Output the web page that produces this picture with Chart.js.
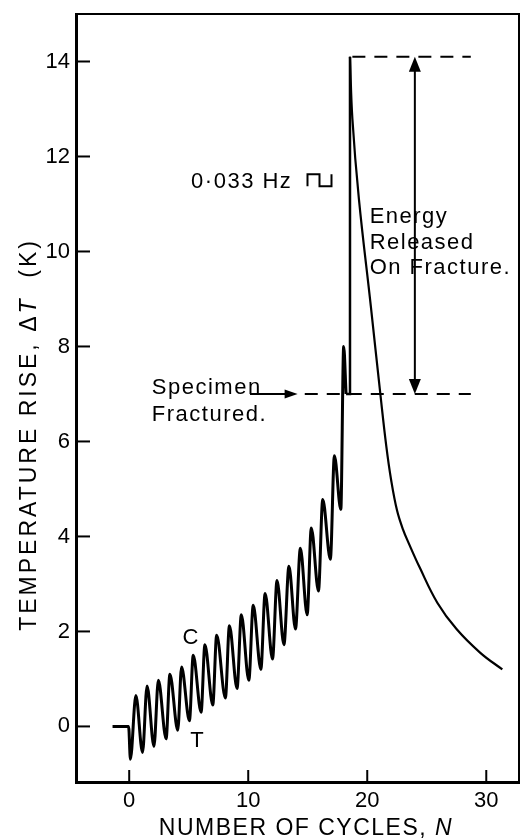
<!DOCTYPE html>
<html>
<head>
<meta charset="utf-8">
<script src="https://cdn.jsdelivr.net/npm/chart.js@4/dist/chart.umd.min.js"></script>
<style>
  html, body { margin: 0; padding: 0; background: #fff; }
  #wrap { width: 525px; height: 838px; position: relative; }
</style>
</head>
<body>
<div id="wrap"><canvas id="myChart"></canvas></div>
<script>
// temperature record while cycling: flat start, then trough / peak pairs
const cycleN = [-1.4, -0.05,
  0.1, 0.56, 1.12, 1.5, 2.08, 2.45, 3.1, 3.42, 4.08, 4.4, 5.06, 5.38, 6.04, 6.36,
  7.02, 7.35, 8.08, 8.42, 9.06, 9.42, 10.05, 10.42, 11.06, 11.42, 12.04, 12.42,
  13.0, 13.42, 13.97, 14.38, 14.95, 15.3, 15.9, 16.26, 16.9, 17.24, 17.78, 18.02, 18.22];
const cycleT = [0, 0,
  -0.69, 0.65, -0.55, 0.85, -0.42, 0.97, -0.26, 1.1, -0.08, 1.25, 0.12, 1.5, 0.3, 1.72,
  0.45, 1.92, 0.6, 2.12, 0.8, 2.35, 0.97, 2.55, 1.2, 2.8, 1.42, 3.07,
  1.72, 3.37, 2.05, 3.75, 2.35, 4.18, 2.85, 4.78, 3.52, 5.7, 4.57, 8.0, 7.0];

// fracture jump
const jumpN = [18.22, 18.55, 18.55];
const jumpT = [7.0, 7.0, 14.1];

// cooling after fracture
const decayN = [18.55, 18.75, 19.3, 20.3, 21.1, 21.6, 22.0, 22.5, 23.0, 23.5, 24.4, 25.9, 27.5, 29.5, 31.35];
const decayT = [14.1, 12.8, 11.1, 8.85, 7.0, 5.9, 5.2, 4.55, 4.15, 3.85, 3.35, 2.6, 2.05, 1.55, 1.2];

// dashed reference levels
const topLevelN = [18.75, 28.7];
const topLevelT = [14.1, 14.1];
const midLevelN = [14.75, 28.7];
const midLevelT = [7.0, 7.0];

const xTicks = [0, 10, 20, 30];
const yTicks = [0, 2, 4, 6, 8, 10, 12, 14];

const pts = (xs, ys) => xs.map((v, i) => ({ x: v, y: ys[i] }));

const FONT = "'Liberation Sans', Arial, sans-serif";

function arrowHead(ctx, tx, ty, dx, dy, len, half) {
  // tip at (tx,ty), pointing along (dx,dy)
  const bx = tx - dx * len, by = ty - dy * len;
  ctx.beginPath();
  ctx.moveTo(tx, ty);
  ctx.lineTo(bx - dy * half, by + dx * half);
  ctx.lineTo(bx + dy * half, by - dx * half);
  ctx.closePath();
  ctx.fill();
}

const overlay = {
  id: 'overlay',
  afterDatasetsDraw(chart) {
    const { ctx, chartArea: a, scales: { x, y } } = chart;
    ctx.save();
    ctx.strokeStyle = '#000';
    ctx.fillStyle = '#000';

    // top and right frame
    ctx.lineWidth = 2;
    ctx.beginPath();
    ctx.moveTo(a.left, a.top);
    ctx.lineTo(a.right, a.top);
    ctx.lineTo(a.right, a.bottom);
    ctx.stroke();

    // ticks point inwards
    yTicks.forEach(v => {
      const py = y.getPixelForValue(v);
      ctx.beginPath(); ctx.moveTo(a.left, py); ctx.lineTo(a.left + 14, py); ctx.stroke();
    });
    xTicks.forEach(v => {
      const px = x.getPixelForValue(v);
      ctx.beginPath(); ctx.moveTo(px, a.bottom); ctx.lineTo(px, a.bottom - 12); ctx.stroke();
    });

    // energy released arrow
    const ax = x.getPixelForValue(24.0);
    const aTop = y.getPixelForValue(14.1), aBot = y.getPixelForValue(7.0);
    ctx.lineWidth = 2;
    ctx.beginPath(); ctx.moveTo(ax, aTop + 10); ctx.lineTo(ax, aBot - 10); ctx.stroke();
    arrowHead(ctx, ax, aTop, 0, -1, 15, 6);
    arrowHead(ctx, ax, aBot, 0, 1, 15, 6);

    // specimen fractured arrow
    const sy = y.getPixelForValue(7.0);
    const sx0 = x.getPixelForValue(10.15), sx1 = x.getPixelForValue(14.15);
    ctx.beginPath(); ctx.moveTo(sx0, sy); ctx.lineTo(sx1 - 8, sy); ctx.stroke();
    arrowHead(ctx, sx1, sy, 1, 0, 13, 4.5);

    // texts
    ctx.font = '22px ' + FONT;
    ctx.letterSpacing = '1.5px';
    ctx.textAlign = 'left';
    ctx.textBaseline = 'alphabetic';
    const hzX = x.getPixelForValue(5.2), hzY = y.getPixelForValue(11.33);
    ctx.fillText('0\u00B7033 Hz', hzX, hzY);
    // square wave sign
    const gx = x.getPixelForValue(14.98), gy = hzY - 2;
    ctx.lineWidth = 2;
    ctx.beginPath();
    ctx.moveTo(gx, gy); ctx.lineTo(gx, gy - 12); ctx.lineTo(gx + 12, gy - 12);
    ctx.lineTo(gx + 12, gy); ctx.lineTo(gx + 24, gy); ctx.lineTo(gx + 24, gy - 12);
    ctx.stroke();

    const ex = x.getPixelForValue(20.2);
    ctx.fillText('Energy', ex, y.getPixelForValue(10.6));
    ctx.fillText('Released', ex, y.getPixelForValue(10.05));
    ctx.fillText('On Fracture.', ex, y.getPixelForValue(9.52));

    const spx = x.getPixelForValue(1.9);
    ctx.fillText('Specimen', spx, y.getPixelForValue(7.0));
    ctx.fillText('Fractured.', spx, y.getPixelForValue(6.43));

    ctx.textAlign = 'center';
    ctx.textBaseline = 'middle';
    ctx.fillText('C', x.getPixelForValue(5.2), y.getPixelForValue(1.86));
    ctx.fillText('T', x.getPixelForValue(5.75), y.getPixelForValue(-0.3));

    // axis titles, with italic symbols
    ctx.textAlign = 'left';
    ctx.textBaseline = 'alphabetic';
    const up = '23px ' + FONT, it = 'italic 23px ' + FONT;
    const xParts = [['NUMBER OF CYCLES, ', up], ['N', it]];
    const yParts = [['TEMPERATURE RISE, \u0394', up], ['T', it], ['  (K)', up]];
    const width = parts => parts.reduce((s, [t, f]) => { ctx.font = f; return s + ctx.measureText(t).width; }, 0);

    ctx.letterSpacing = '1.5px';
    let cx = 306 - width(xParts) / 2;
    xParts.forEach(([t, f]) => { ctx.font = f; ctx.fillText(t, cx, 835); cx += ctx.measureText(t).width; });

    // y title: upper end ("(K)") sits at about y = 238
    ctx.letterSpacing = '3px';
    const yw = width(yParts);
    ctx.translate(36, 238 + yw);
    ctx.rotate(-Math.PI / 2);
    cx = 0;
    yParts.forEach(([t, f]) => { ctx.font = f; ctx.fillText(t, cx, 0); cx += ctx.measureText(t).width; });

    ctx.restore();
  }
};

const line = (data, extra) => Object.assign({
  data, showLine: true, borderColor: '#000', pointRadius: 0, fill: false
}, extra);

const config = {
  type: 'scatter',
  data: {
    datasets: [
      line(pts(cycleN, cycleT), { borderWidth: 3, cubicInterpolationMode: 'monotone' }),
      line(pts(jumpN, jumpT), { borderWidth: 2.5, tension: 0 }),
      line(pts(decayN, decayT), { borderWidth: 2.2, tension: 0.4 }),
      line(pts(topLevelN, topLevelT), { borderWidth: 2, borderDash: [13, 9] }),
      line(pts(midLevelN, midLevelT), { borderWidth: 2, borderDash: [13, 9] })
    ]
  },
  options: {
    responsive: true,
    maintainAspectRatio: false,
    animation: false,
    layout: { padding: { top: 14, right: 6, left: 0, bottom: 0 } },
    plugins: { legend: { display: false }, tooltip: { enabled: false } },
    scales: {
      x: {
        type: 'linear', min: -4.47, max: 32.75,
        grid: { display: false, drawTicks: false, tickLength: 0 },
        border: { display: true, width: 3, color: '#000' },
        ticks: { color: '#000', font: { family: FONT, size: 22 }, padding: 6, maxRotation: 0 },
        afterBuildTicks: s => { s.ticks = xTicks.map(v => ({ value: v })); },
        afterFit: s => { s.height = 56; s.paddingLeft = 0; s.paddingRight = 0; }
      },
      y: {
        type: 'linear', min: -1.17, max: 15.0,
        grid: { display: false, drawTicks: false, tickLength: 0 },
        border: { display: true, width: 3, color: '#000' },
        ticks: { color: '#000', font: { family: FONT, size: 22 }, padding: 6 },
        afterBuildTicks: s => { s.ticks = yTicks.map(v => ({ value: v })); },
        afterFit: s => { s.width = 76; s.paddingTop = 0; s.paddingBottom = 0; }
      }
    }
  },
  plugins: [overlay]
};

const myChart = new Chart(document.getElementById('myChart'), config);
</script>
</body>
</html>
